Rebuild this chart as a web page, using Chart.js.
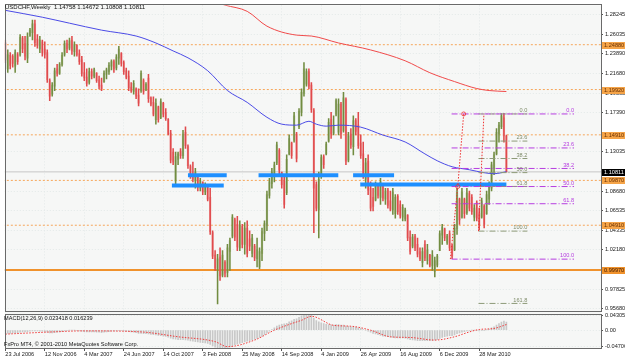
<!DOCTYPE html>
<html>
<head>
<meta charset="utf-8">
<script src="https://cdn.jsdelivr.net/npm/chart.js@4"></script>
<style>
  html, body { margin: 0; padding: 0; background: #fff; }
  #wrap { width: 625px; height: 361px; }
</style>
</head>
<body>
<div id="wrap"><canvas id="chart" width="625" height="361"></canvas></div>
<script>
// USDCHF weekly bars, index 0 = week of 23 Jul 2006
const opens = [
  1.251, 1.222, 1.237, 1.236, 1.225, 1.238, 1.238, 1.256, 1.250, 1.234,
  1.259, 1.262, 1.272, 1.255, 1.244, 1.252, 1.244, 1.240, 1.209, 1.194,
  1.203, 1.222, 1.217, 1.227, 1.238, 1.250, 1.245, 1.254, 1.241, 1.248,
  1.239, 1.232, 1.218, 1.213, 1.207, 1.219, 1.214, 1.217, 1.210, 1.204,
  1.208, 1.216, 1.219, 1.225, 1.230, 1.223, 1.234, 1.239, 1.229, 1.220,
  1.214, 1.202, 1.197, 1.200, 1.193, 1.198, 1.209, 1.199, 1.212, 1.190,
  1.185, 1.166, 1.180, 1.168, 1.184, 1.174, 1.166, 1.151, 1.130, 1.098,
  1.122, 1.131, 1.126, 1.152, 1.136, 1.114, 1.105, 1.098, 1.104, 1.090,
  1.097, 1.086, 1.092, 1.080, 1.041, 1.016, 1.000, 1.014, 0.994, 1.008,
  0.997, 1.020, 1.037, 1.055, 1.050, 1.024, 1.048, 1.028, 1.046, 1.034,
  1.018, 1.026, 1.012, 1.003, 1.018, 1.040, 1.049, 1.082, 1.095, 1.104,
  1.118, 1.132, 1.108, 1.098, 1.085, 1.128, 1.140, 1.143, 1.150, 1.158,
  1.174, 1.195, 1.205, 1.219, 1.204, 1.176, 1.094, 1.066, 1.103, 1.125,
  1.128, 1.142, 1.166, 1.151, 1.172, 1.152, 1.183, 1.154, 1.188, 1.121,
  1.150, 1.136, 1.165, 1.160, 1.140, 1.128, 1.100, 1.120, 1.090, 1.080,
  1.077, 1.092, 1.080, 1.093, 1.078, 1.088, 1.076, 1.066, 1.062, 1.081,
  1.072, 1.058, 1.056, 1.060, 1.036, 1.026, 1.037, 1.028, 1.020, 1.008,
  1.028, 1.010, 1.016, 1.004, 0.998, 1.005, 1.021, 1.038, 1.045, 1.030,
  1.040, 1.026, 1.022, 1.045, 1.078, 1.058, 1.078, 1.063, 1.084, 1.080,
  1.058, 1.074, 1.062, 1.058, 1.070, 1.062, 1.078, 1.090, 1.112, 1.128,
  1.150, 1.158, 1.168, 1.14758
];
const highs = [
  1.254, 1.243, 1.240, 1.238, 1.243, 1.240, 1.260, 1.258, 1.258, 1.262,
  1.267, 1.276, 1.276, 1.260, 1.258, 1.254, 1.252, 1.243, 1.211, 1.207,
  1.223, 1.227, 1.229, 1.240, 1.253, 1.254, 1.256, 1.258, 1.252, 1.249,
  1.243, 1.236, 1.229, 1.222, 1.223, 1.222, 1.223, 1.218, 1.214, 1.212,
  1.220, 1.223, 1.229, 1.232, 1.232, 1.238, 1.247, 1.240, 1.231, 1.223,
  1.220, 1.207, 1.209, 1.201, 1.200, 1.220, 1.211, 1.207, 1.216, 1.191,
  1.191, 1.189, 1.181, 1.189, 1.185, 1.178, 1.167, 1.154, 1.134, 1.130,
  1.130, 1.134, 1.154, 1.158, 1.138, 1.116, 1.119, 1.112, 1.105, 1.101,
  1.097, 1.096, 1.092, 1.090, 1.043, 1.021, 1.017, 1.024, 1.021, 1.010,
  1.028, 1.035, 1.061, 1.057, 1.059, 1.054, 1.050, 1.052, 1.054, 1.043,
  1.039, 1.028, 1.035, 1.024, 1.046, 1.054, 1.087, 1.101, 1.112, 1.119,
  1.141, 1.134, 1.108, 1.105, 1.127, 1.149, 1.141, 1.174, 1.152, 1.178,
  1.200, 1.229, 1.222, 1.222, 1.207, 1.178, 1.097, 1.108, 1.127, 1.127,
  1.141, 1.167, 1.174, 1.170, 1.189, 1.189, 1.185, 1.196, 1.190, 1.152,
  1.156, 1.170, 1.167, 1.174, 1.149, 1.141, 1.123, 1.127, 1.097, 1.090,
  1.097, 1.094, 1.101, 1.094, 1.090, 1.090, 1.087, 1.090, 1.083, 1.083,
  1.076, 1.072, 1.068, 1.061, 1.043, 1.039, 1.039, 1.035, 1.024, 1.024,
  1.032, 1.028, 1.017, 1.021, 1.014, 1.017, 1.043, 1.050, 1.046, 1.039,
  1.043, 1.028, 1.050, 1.090, 1.079, 1.090, 1.079, 1.090, 1.087, 1.083,
  1.072, 1.076, 1.068, 1.079, 1.072, 1.087, 1.097, 1.119, 1.130, 1.156,
  1.163, 1.1725, 1.173, 1.14872
];
const lows = [
  1.229, 1.218, 1.222, 1.224, 1.218, 1.227, 1.236, 1.240, 1.232, 1.229,
  1.258, 1.254, 1.247, 1.245, 1.240, 1.236, 1.234, 1.207, 1.187, 1.192,
  1.198, 1.214, 1.216, 1.225, 1.236, 1.240, 1.243, 1.238, 1.236, 1.236,
  1.227, 1.214, 1.209, 1.203, 1.205, 1.211, 1.212, 1.207, 1.200, 1.198,
  1.207, 1.211, 1.216, 1.221, 1.218, 1.221, 1.227, 1.225, 1.216, 1.211,
  1.198, 1.196, 1.194, 1.189, 1.181, 1.196, 1.194, 1.198, 1.185, 1.181,
  1.170, 1.161, 1.163, 1.167, 1.169, 1.165, 1.149, 1.118, 1.116, 1.092,
  1.116, 1.123, 1.123, 1.134, 1.112, 1.101, 1.097, 1.090, 1.087, 1.087,
  1.083, 1.083, 1.076, 1.039, 1.012, 0.999, 0.962, 0.988, 0.992, 0.992,
  0.992, 0.999, 1.035, 1.032, 1.021, 1.021, 1.024, 1.017, 1.014, 1.021,
  1.014, 1.010, 1.003, 1.001, 1.010, 1.032, 1.043, 1.079, 1.090, 1.097,
  1.116, 1.105, 1.090, 1.068, 1.083, 1.127, 1.123, 1.141, 1.119, 1.156,
  1.170, 1.192, 1.203, 1.200, 1.174, 1.041, 1.065, 1.035, 1.101, 1.112,
  1.127, 1.141, 1.145, 1.149, 1.170, 1.149, 1.145, 1.152, 1.116, 1.119,
  1.134, 1.127, 1.149, 1.134, 1.123, 1.101, 1.090, 1.083, 1.065, 1.065,
  1.076, 1.079, 1.072, 1.076, 1.072, 1.068, 1.065, 1.061, 1.057, 1.061,
  1.057, 1.054, 1.054, 1.032, 1.017, 1.024, 1.021, 1.014, 1.010, 1.003,
  1.010, 1.006, 1.003, 0.999, 0.992, 1.003, 1.021, 1.028, 1.032, 1.028,
  1.021, 1.012, 1.021, 1.039, 1.050, 1.057, 1.057, 1.061, 1.065, 1.061,
  1.054, 1.054, 1.044, 1.057, 1.046, 1.061, 1.072, 1.087, 1.105, 1.127,
  1.141, 1.156, 1.141, 1.10808
];
const closes = [
  1.232, 1.238, 1.226, 1.228, 1.240, 1.230, 1.257, 1.244, 1.236, 1.258,
  1.265, 1.272, 1.251, 1.248, 1.254, 1.240, 1.238, 1.210, 1.192, 1.204,
  1.220, 1.217, 1.227, 1.237, 1.250, 1.244, 1.253, 1.242, 1.249, 1.238,
  1.230, 1.217, 1.212, 1.206, 1.219, 1.214, 1.221, 1.209, 1.203, 1.200,
  1.217, 1.221, 1.226, 1.230, 1.222, 1.235, 1.244, 1.228, 1.219, 1.213,
  1.201, 1.198, 1.206, 1.192, 1.184, 1.217, 1.197, 1.205, 1.189, 1.183,
  1.172, 1.184, 1.166, 1.186, 1.172, 1.167, 1.150, 1.121, 1.119, 1.125,
  1.128, 1.126, 1.150, 1.137, 1.115, 1.104, 1.100, 1.108, 1.091, 1.098,
  1.086, 1.093, 1.078, 1.042, 1.015, 1.002, 1.012, 0.993, 1.016, 0.996,
  1.024, 1.032, 1.058, 1.036, 1.025, 1.049, 1.028, 1.046, 1.018, 1.026,
  1.035, 1.013, 1.022, 1.020, 1.042, 1.051, 1.083, 1.097, 1.108, 1.116,
  1.138, 1.110, 1.094, 1.072, 1.122, 1.145, 1.126, 1.170, 1.123, 1.175,
  1.196, 1.222, 1.219, 1.203, 1.177, 1.090, 1.068, 1.100, 1.124, 1.116,
  1.139, 1.163, 1.150, 1.160, 1.187, 1.183, 1.150, 1.190, 1.120, 1.148,
  1.138, 1.165, 1.153, 1.137, 1.126, 1.105, 1.118, 1.088, 1.068, 1.070,
  1.093, 1.082, 1.097, 1.079, 1.087, 1.071, 1.067, 1.086, 1.080, 1.064,
  1.060, 1.069, 1.066, 1.035, 1.020, 1.036, 1.024, 1.017, 1.012, 1.020,
  1.013, 1.022, 1.005, 1.016, 1.010, 1.015, 1.040, 1.047, 1.035, 1.037,
  1.024, 1.015, 1.046, 1.085, 1.055, 1.086, 1.062, 1.085, 1.068, 1.064,
  1.068, 1.057, 1.049, 1.076, 1.050, 1.083, 1.094, 1.116, 1.127, 1.152,
  1.160, 1.170, 1.148, 1.10811
];

// date axis
const dateTickIdx = [0, 16, 32, 48, 64, 80, 96, 112, 128, 144, 160, 176, 192];
const dateTickLabels = ['23 Jul 2006', '12 Nov 2006', '4 Mar 2007', '24 Jun 2007', '14 Oct 2007',
  '3 Feb 2008', '25 May 2008', '14 Sep 2008', '4 Jan 2009', '26 Apr 2009', '16 Aug 2009',
  '6 Dec 2009', '28 Mar 2010'];

// price axis labels
const priceTicks = [1.28245, 1.26035, 1.23890, 1.21680, 1.19535, 1.17390, 1.13035,
  1.08680, 1.06535, 1.04335, 1.02180, 0.97825, 0.95680];
const macdTicks = [0.04305, 0, -0.04706];

// moving averages
const maBlueIdx = [0, 15, 26, 39, 53, 61, 68, 74, 82, 90, 98, 106, 112, 118, 123, 126, 130, 135,
  144, 153, 162, 170, 175, 181, 188, 194, 198, 203];
const maBlueVal = [1.2868, 1.2792, 1.2726, 1.2649, 1.2584, 1.2507, 1.2419, 1.2343, 1.2200, 1.1981,
  1.1850, 1.1685, 1.1609, 1.1598, 1.1641, 1.1609, 1.1587, 1.1598, 1.1576, 1.1488, 1.1412, 1.1280,
  1.1204, 1.1138, 1.1105, 1.1072, 1.1061, 1.1083];
const maRedIdx = [84, 89, 98, 106, 118, 124, 135, 148, 162, 172, 182, 191, 196, 203];
const maRedVal = [1.2970, 1.2926, 1.2857, 1.2693, 1.2594, 1.2584, 1.2507, 1.2430, 1.2310, 1.2178,
  1.2080, 1.2003, 1.1981, 1.1970];

// horizontal levels
const orangeLevels = [1.2488, 1.1992, 1.1491, 1.0987, 1.0491];
const orangeLabels = ['1.24880', '1.19920', '1.14910', '1.09870', '1.04910'];
const supportLevel = 0.9997;
const lastPrice = 1.10811;

// blue support/resistance zones
const zoneFrom = [67.5, 74, 102.6, 140.9, 143.8];
const zoneTo = [88.5, 89.7, 134.9, 157.5, 203];
const zonePrice = [1.0930, 1.1044, 1.1044, 1.1044, 1.0941];

// fibonacci retracements
const fibPurpleLabels = ['0.0', '23.6', '38.2', '50.0', '61.8', '100.0'];
const fibPurplePrices = [1.1722, 1.1346, 1.1119, 1.0919, 1.0729, 1.0116];
const fibPurpleSpan = [180.8, 230.4];
const fibGreyLabels = ['0.0', '23.6', '38.2', '50.0', '61.8', '100.0', '161.8'];
const fibGreyPrices = [1.1722, 1.1422, 1.1229, 1.1073, 1.0920, 1.0426, 0.9626];
const fibGreySpan = [191.7, 211.5];
const anchorAIdx = [180.3, 183.3, 185.7];
const anchorAVal = [1.0116, 1.0919, 1.1722];
const anchorBIdx = [191.7, 193.9];
const anchorBVal = [1.0426, 1.1722];

// MACD(12,26,9)
const macdMain = [
  -0.010, -0.009, -0.009, -0.008, -0.008, -0.007, -0.006, -0.005, -0.005, -0.004,
  -0.003, -0.002, -0.002, -0.002, -0.003, -0.003, -0.004, -0.006, -0.008, -0.008,
  -0.007, -0.006, -0.005, -0.004, -0.002, -0.001, 0.000, 0.000, 0.000, -0.001,
  -0.002, -0.003, -0.004, -0.005, -0.005, -0.005, -0.005, -0.006, -0.006, -0.007,
  -0.006, -0.005, -0.004, -0.003, -0.002, -0.002, -0.001, -0.001, -0.002, -0.003,
  -0.004, -0.005, -0.006, -0.007, -0.009, -0.009, -0.010, -0.010, -0.011, -0.012,
  -0.013, -0.014, -0.015, -0.016, -0.017, -0.018, -0.020, -0.023, -0.025, -0.026,
  -0.027, -0.027, -0.027, -0.028, -0.029, -0.031, -0.032, -0.033, -0.034, -0.035,
  -0.036, -0.037, -0.038, -0.041, -0.045, -0.049, -0.051, -0.052, -0.052, -0.051,
  -0.050, -0.048, -0.045, -0.042, -0.040, -0.038, -0.036, -0.034, -0.032, -0.030,
  -0.028, -0.026, -0.024, -0.021, -0.017, -0.013, -0.008, -0.003, 0.002, 0.007,
  0.012, 0.015, 0.017, 0.018, 0.020, 0.024, 0.027, 0.031, 0.033, 0.037,
  0.041, 0.044, 0.045, 0.045, 0.043, 0.035, 0.028, 0.024, 0.021, 0.019,
  0.017, 0.016, 0.015, 0.015, 0.016, 0.016, 0.015, 0.015, 0.012, 0.011,
  0.010, 0.010, 0.009, 0.007, 0.005, 0.002, 0.000, -0.003, -0.006, -0.009,
  -0.011, -0.013, -0.015, -0.017, -0.018, -0.019, -0.020, -0.021, -0.022, -0.022,
  -0.022, -0.022, -0.023, -0.025, -0.027, -0.028, -0.029, -0.030, -0.030, -0.030,
  -0.030, -0.030, -0.030, -0.030, -0.029, -0.027, -0.024, -0.021, -0.019, -0.017,
  -0.016, -0.016, -0.014, -0.010, -0.008, -0.006, -0.004, -0.002, -0.001, 0.000,
  0.000, -0.001, -0.002, -0.001, -0.001, 0.001, 0.003, 0.007, 0.010, 0.015,
  0.019, 0.023, 0.026, 0.023
];
const signalIdx = [0, 19, 32, 55, 70, 85, 90, 101, 109, 116, 120, 124, 133, 140, 148, 156, 164,
  174, 182, 188, 192, 198, 203];
const signalVal = [-0.0114, -0.005, -0.002, -0.005, -0.019, -0.033, -0.0475, -0.0285, 0.000,
  0.019, 0.0285, 0.040, 0.014, 0.0114, 0.000, -0.019, -0.021, -0.0285, -0.019, -0.005, 0.002,
  0.005, 0.0162];

Chart.defaults.font.family = "'Liberation Sans', Arial, sans-serif";
Chart.defaults.font.size = 5.6;
Chart.defaults.color = '#1a1a1a';

const idx = opens.map((v, i) => i);
const isUp = i => closes[i] >= opens[i];
const pts = (xs, ys) => xs.map((x, k) => ({ x: x, y: ys[k] }));

function hline(value, from, to, color, width, dash, order) {
  return {
    type: 'line', data: [{ x: from, y: value }, { x: to, y: value }],
    borderColor: color, borderWidth: width, borderDash: dash,
    pointRadius: 0, yAxisID: 'y', order: order
  };
}

const datasets = [];
orangeLevels.forEach(v => datasets.push(hline(v, -1, 242, '#f6a65a', 1, [2, 2], 20)));
datasets.push(hline(supportLevel, -1, 242, '#f0922c', 2, [], 20));
datasets.push(hline(lastPrice, -1, 242, '#c6c6c6', 1, [], 19));

// candle bodies and wicks
datasets.push({
  type: 'bar', yAxisID: 'y', order: 15, grouped: false, barThickness: 1.6,
  data: idx.map(i => ({ x: i, y: [opens[i], closes[i]] })),
  backgroundColor: c => isUp(c.dataIndex) ? 'rgba(170,186,140,0.75)' : 'rgba(238,150,150,0.75)'
});
datasets.push({
  type: 'bar', yAxisID: 'y', order: 14, grouped: false, barThickness: 0.9,
  data: idx.map(i => ({ x: i, y: [lows[i], highs[i]] })),
  backgroundColor: c => isUp(c.dataIndex) ? '#718c40' : '#e04a4c'
});

zoneFrom.forEach((f, k) => datasets.push(hline(zonePrice[k], f, zoneTo[k], '#1e8fff', 4, [], 12)));

datasets.push({
  type: 'line', yAxisID: 'y', order: 10, data: pts(maBlueIdx, maBlueVal),
  borderColor: '#4b4be6', borderWidth: 1, pointRadius: 0, cubicInterpolationMode: 'monotone'
});
datasets.push({
  type: 'line', yAxisID: 'y', order: 10, data: pts(maRedIdx, maRedVal),
  borderColor: '#f04a4a', borderWidth: 1, pointRadius: 0, cubicInterpolationMode: 'monotone'
});

fibPurplePrices.forEach(p => datasets.push(hline(p, fibPurpleSpan[0], fibPurpleSpan[1], '#b63ee0', 1, [6, 2, 1, 2], 8)));
fibGreyPrices.forEach(p => datasets.push(hline(p, fibGreySpan[0], fibGreySpan[1], '#8d9a78', 1, [6, 2, 1, 2], 8)));

datasets.push({
  type: 'line', yAxisID: 'y', order: 6, data: pts(anchorAIdx, anchorAVal),
  borderColor: '#f03030', borderWidth: 1, borderDash: [1.5, 1.5],
  pointRadius: [0, 2, 2], pointStyle: 'circle', pointBorderColor: '#f03030', pointBackgroundColor: 'rgba(0,0,0,0)', pointBorderWidth: 0.8
});
datasets.push({
  type: 'line', yAxisID: 'y', order: 6, data: pts(anchorBIdx, anchorBVal),
  borderColor: '#f03030', borderWidth: 1, borderDash: [1.5, 1.5], pointRadius: 0
});

// MACD panel
datasets.push({
  type: 'bar', yAxisID: 'y2', order: 15, grouped: false, barThickness: 1,
  data: idx.map(i => ({ x: i, y: macdMain[i] })), backgroundColor: '#c8c8c8'
});
datasets.push({
  type: 'line', yAxisID: 'y2', order: 10, data: pts(signalIdx, signalVal),
  borderColor: '#f03c3c', borderWidth: 1, borderDash: [1.5, 1.5], pointRadius: 0,
  cubicInterpolationMode: 'monotone'
});

function axisBox(ctx, y, text, fill, color) {
  ctx.fillStyle = fill;
  ctx.fillRect(602, Math.round(y) - 3, 23, 7);
  ctx.fillStyle = color;
  ctx.textAlign = 'left';
  ctx.textBaseline = 'middle';
  ctx.fillText(text, 604, y + 0.5);
}

const overlay = {
  id: 'overlay',
  beforeDraw(chart) {
    const { ctx, chartArea: a } = chart;
    ctx.save();
    ctx.fillStyle = '#ffffff';
    ctx.fillRect(0, 0, chart.width, chart.height);
    ctx.fillStyle = '#f6f7f6';
    ctx.fillRect(a.left, a.top, a.right - a.left, a.bottom - a.top);
    ctx.restore();
  },
  afterDraw(chart) {
    const ctx = chart.ctx;
    const x = chart.scales.x, y = chart.scales.y, y2 = chart.scales.y2;
    ctx.save();

    // panel frames
    ctx.strokeStyle = '#6a6a6a';
    ctx.lineWidth = 1;
    ctx.strokeRect(Math.round(x.left) + 0.5, Math.round(y.top) - 0.5, Math.round(x.right - x.left), Math.round(y.bottom - y.top));
    ctx.strokeRect(Math.round(x.left) + 0.5, Math.round(y2.top) + 1.5, Math.round(x.right - x.left), Math.round(y2.bottom - y2.top) - 2);

    ctx.font = "5.6px 'Liberation Sans', Arial, sans-serif";

    // fibonacci level labels
    ctx.textAlign = 'right';
    ctx.textBaseline = 'bottom';
    ctx.fillStyle = '#b63ee0';
    fibPurpleLabels.forEach((t, k) => ctx.fillText(t, x.getPixelForValue(fibPurpleSpan[1]), y.getPixelForValue(fibPurplePrices[k]) - 0.5));
    ctx.fillStyle = '#7f8c6a';
    fibGreyLabels.forEach((t, k) => ctx.fillText(t, x.getPixelForValue(fibGreySpan[1]), y.getPixelForValue(fibGreyPrices[k]) - 0.5));

    // price markers on the axis
    orangeLevels.forEach((v, k) => axisBox(ctx, y.getPixelForValue(v), orangeLabels[k], '#f5a448', '#6a3000'));
    axisBox(ctx, y.getPixelForValue(supportLevel), '0.99970', '#f0922c', '#3a1800');
    axisBox(ctx, y.getPixelForValue(lastPrice), '1.10811', '#000000', '#ffffff');

    // captions
    ctx.fillStyle = '#111';
    ctx.textAlign = 'left';
    ctx.textBaseline = 'middle';
    ctx.font = "6px 'Liberation Sans', Arial, sans-serif";
    ctx.fillText('USDCHF,Weekly  1.14758 1.14672 1.10808 1.10811', 5, 7);
    ctx.font = "5.6px 'Liberation Sans', Arial, sans-serif";
    ctx.fillText('MACD(12,26,9) 0.023418 0.016239', 4, y2.top + 5.5);
    ctx.fillText('FxPro MT4, \u00a9 2001-2010 MetaQuotes Software Corp.', 4, y2.bottom - 4.5);
    ctx.restore();
  }
};

const gridStyle = { color: '#e4e9e9', tickLength: 2, tickColor: '#555555' };

new Chart(document.getElementById('chart'), {
  type: 'bar',
  data: { datasets: datasets },
  plugins: [overlay],
  options: {
    responsive: false,
    animation: false,
    devicePixelRatio: 1,
    events: [],
    layout: { padding: { left: 2, top: 2, right: 0, bottom: 0 } },
    plugins: { legend: { display: false }, tooltip: { enabled: false } },
    scales: {
      x: {
        type: 'linear', position: 'bottom', min: -0.2, max: 241.33, offset: false,
        afterBuildTicks: s => { s.ticks = dateTickIdx.map(v => ({ value: v })); },
        afterFit: s => { s.height = 12; },
        ticks: {
          autoSkip: false, maxRotation: 0, align: 'start', padding: 0,
          callback: v => dateTickLabels[dateTickIdx.indexOf(v)] || ''
        },
        grid: Object.assign({ offset: false }, gridStyle),
        border: { display: false, dash: [1, 2] }
      },
      y: {
        type: 'linear', position: 'right', stack: 'panes', stackWeight: 309.5,
        min: 0.9523, max: 1.29231,
        afterBuildTicks: s => { s.ticks = priceTicks.map(v => ({ value: v })); },
        afterFit: s => { s.width = 24; },
        ticks: { autoSkip: false, padding: 2, callback: v => v.toFixed(5) },
        grid: gridStyle,
        border: { display: false, dash: [1, 2] }
      },
      y2: {
        type: 'linear', position: 'right', stack: 'panes', stackWeight: 36.5,
        min: -0.0542, max: 0.0502,
        afterBuildTicks: s => { s.ticks = macdTicks.map(v => ({ value: v })); },
        afterFit: s => { s.width = 24; },
        ticks: { autoSkip: false, padding: 2, callback: v => v === 0 ? '0.00' : v.toFixed(5) },
        grid: gridStyle,
        border: { display: false, dash: [1, 2] }
      }
    }
  }
});
</script>
</body>
</html>
